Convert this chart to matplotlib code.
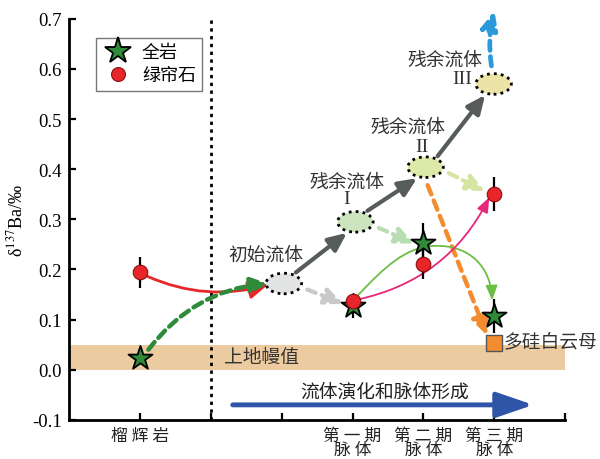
import numpy as np
import matplotlib
matplotlib.use("Agg")
import matplotlib.pyplot as plt
from matplotlib.patches import Ellipse, FancyArrowPatch
from matplotlib.path import Path
from matplotlib.lines import Line2D

plt.rcParams['font.family'] = ['Liberation Serif', 'Noto Sans CJK SC']
plt.rcParams['mathtext.fontset'] = 'stix'

# stage positions on the x axis: eclogite, (divider), initial fluid, vein I, II, III
tick_pos = [0, 1, 2, 3, 4, 5, 6]
tick_labels = ['榴 辉 岩', '', '', '第 一 期\n脉 体', '第 二 期\n脉 体', '第 三 期\n脉 体', '']

# whole rock (stars) and epidote (circles)
rock_x = [0, 3, 4, 5]
rock_y = [0.024, 0.128, 0.252, 0.108]
rock_err = [0.0, 0.024, 0.040, 0.034]

epi_x = [0, 3, 4, 5]
epi_y = [0.194, 0.138, 0.210, 0.350]
epi_err = [0.030, 0.014, 0.028, 0.034]

# phengite
phg_x = [5.0]
phg_y = [0.054]

# fluid reservoirs
fluid_x = [2.03, 3.04, 4.03, 4.99]
fluid_y = [0.172, 0.295, 0.404, 0.570]
fluid_colors = ['#E2E3E3', '#CDE5BE', '#DCE9A8', '#ECE4A6']
fluid_names = ['初始流体', '残余流体', '残余流体', '残余流体']
fluid_roman = ['', 'I', 'II', 'III']

mantle_lo, mantle_hi = 0.0, 0.05

fig = plt.figure(figsize=(6, 4.6), dpi=100)
ax = fig.add_axes([0.115, 0.085, 0.827, 0.872])
ax.set_xlim(-1, 6)
ax.set_ylim(-0.1, 0.7)

# upper mantle band
ax.axhspan(mantle_lo, mantle_hi, color='#EDCBA0', lw=0, zorder=0)
ax.text(1.18, 0.024, '上地幔值', fontsize=13.5, va='center', ha='left', color='#333333')

# divider between eclogite and veins
ax.axvline(1, ymax=1.0, color='black', ls=(0, (1.2, 1.6)), lw=2, zorder=1)


def arrow(p0, p1, color, lw, style, ms, rad=0.0, ls='-', z=3, clip=True):
    a = FancyArrowPatch(p0, p1, arrowstyle=style, mutation_scale=ms,
                        connectionstyle=f'arc3,rad={rad}', color=color,
                        lw=lw, ls=ls, shrinkA=0, shrinkB=0, zorder=z,
                        clip_on=clip)
    ax.add_patch(a)


def curve(verts, color, lw, style, ms, z=3):
    codes = [Path.MOVETO] + [Path.CURVE4] * (len(verts) - 1)
    a = FancyArrowPatch(path=Path(verts, codes), arrowstyle=style,
                        mutation_scale=ms, color=color, lw=lw, zorder=z)
    ax.add_patch(a)


head = '-|>,head_length=1.0,head_width=0.45'

# eclogite -> initial fluid
arrow((epi_x[0] + 0.11, epi_y[0] - 0.008), (fluid_x[0] - 0.22, fluid_y[0] - 0.002),
      '#E8262A', 2.0, head, 12, rad=0.18)
arrow((rock_x[0] + 0.12, rock_y[0] + 0.016), (fluid_x[0] - 0.22, fluid_y[0]),
      '#2F8A3A', 3.2, head, 10, rad=-0.22, ls=(0, (2.2, 1.3)))

# fluid evolution (solid gray)
for i in range(3):
    arrow((fluid_x[i] + 0.17, fluid_y[i] + 0.022), (fluid_x[i + 1] - 0.12, fluid_y[i + 1] - 0.022),
          '#565B5B', 3.0, head, 11)

# fluid -> vein minerals (dashed light)
light = ['#C9C9C9', '#B9DDB2', '#D7E5A2']
ends = [(rock_x[1] - 0.13, rock_y[1] + 0.004),
        (rock_x[2] - 0.13, rock_y[2]),
        (epi_x[3] - 0.13, epi_y[3] + 0.006)]
for i in range(3):
    arrow((fluid_x[i] + 0.33, fluid_y[i] - 0.012), ends[i],
          light[i], 3.0, head, 11, ls=(0, (2.2, 1.5)))

# fluid II -> phengite
arrow((fluid_x[2] + 0.03, fluid_y[2] - 0.036), (phg_x[0] - 0.1, phg_y[0] + 0.014),
      '#F28C2F', 3.2, head, 11, ls=(0, (2.2, 1.5)))

# fluid III escaping upward
arrow((fluid_x[3] - 0.03, fluid_y[3] + 0.036), (fluid_x[3] + 0.01, 0.716),
      '#2C9AD8', 3.4, head, 11, rad=-0.1, ls=(0, (2.0, 1.3)), clip=False)

# whole rock trend
curve([(rock_x[1] + 0.06, epi_y[1] + 0.008), (3.45, 0.205), (3.75, 0.245), (4.15, 0.247),
       (4.65, 0.25), (4.95, 0.205), (rock_x[3] - 0.03, rock_y[3] + 0.03)],
      '#6DBE45', 1.3, '-|>,head_length=0.9,head_width=0.35', 10)

# epidote trend
arrow((epi_x[1] + 0.07, epi_y[1] + 0.002), (epi_x[3] - 0.07, epi_y[3] - 0.006),
      '#E8267A', 1.3, '-|>,head_length=0.9,head_width=0.35', 10, rad=0.24)

# fluid ellipses and labels
for i in range(4):
    e = Ellipse((fluid_x[i], fluid_y[i]), 0.5, 0.041, facecolor=fluid_colors[i],
                edgecolor='black', lw=2.0, ls=(0, (1.0, 1.5)), zorder=5)
    ax.add_patch(e)

ax.text(1.78, 0.228, fluid_names[0], fontsize=13.5, ha='center', va='center', color='#333333')
ax.text(2.92, 0.374, fluid_names[1], fontsize=13.5, ha='center', va='center', color='#333333')
ax.text(2.92, 0.342, fluid_roman[1], fontsize=14, ha='center', va='center', color='#333333')
ax.text(3.78, 0.484, fluid_names[2], fontsize=13.5, ha='center', va='center', color='#333333')
ax.text(3.98, 0.446, fluid_roman[2], fontsize=14, ha='center', va='center', color='#333333')
ax.text(4.31, 0.618, fluid_names[3], fontsize=13.5, ha='center', va='center', color='#333333')
ax.text(4.55, 0.58, fluid_roman[3], fontsize=14, ha='center', va='center', color='#333333')

# data points
ax.errorbar(rock_x, rock_y, yerr=rock_err, fmt='none', ecolor='black', elinewidth=1.6, zorder=6)
ax.errorbar(epi_x, epi_y, yerr=epi_err, fmt='none', ecolor='black', elinewidth=1.6, zorder=6)
ax.scatter(rock_x, rock_y, marker='*', s=330, c='#2F8A3A', edgecolors='black', linewidths=1.3, zorder=7)
ax.scatter(epi_x, epi_y, marker='o', s=110, c='#E8262A', edgecolors='#8A1010', linewidths=0.8, zorder=8)
ax.scatter(phg_x, phg_y, marker='s', s=120, c='#F28C2F', edgecolors='#555555', linewidths=1.0, zorder=7)
ax.text(5.13, 0.056, '多硅白云母', fontsize=13.5, ha='left', va='center', color='#333333')

# process arrow along the bottom
arrow((1.31, -0.07), (5.55, -0.07), '#2F55A8', 3.5, '-|>,head_length=1.6,head_width=0.55', 14, z=4)
ax.text(3.45, -0.043, '流体演化和脉体形成', fontsize=13.5, ha='center', va='center', color='#222222')

# axes styling
for s in ['top', 'right']:
    ax.spines[s].set_visible(False)
for s in ['left', 'bottom']:
    ax.spines[s].set_linewidth(2)
ax.set_xticks(tick_pos)
ax.set_xticklabels(tick_labels, fontsize=12, linespacing=0.82, color='#222222')
yt = np.round(np.arange(-0.1, 0.71, 0.1), 1)
ax.set_yticks(yt)
ax.set_yticklabels([f'{v:.1f}' for v in yt], fontsize=13.5)
ax.tick_params(direction='in', length=5, width=1.6, pad=5)
ax.tick_params(axis='x', pad=6)
ax.set_ylabel('δ$^{137}$Ba/‰', fontsize=13, labelpad=4)

handles = [Line2D([], [], ls='none', marker='*', ms=20, mfc='#2F8A3A', mec='black', mew=1.3),
           Line2D([], [], ls='none', marker='o', ms=10, mfc='#E8262A', mec='#8A1010', mew=0.8)]
leg = ax.legend(handles, ['全岩', '绿帘石'], loc='upper left', bbox_to_anchor=(0.036, 0.975),
                fontsize=13, frameon=True, fancybox=False, edgecolor='#555555',
                handletextpad=0.5, borderpad=0.35, labelspacing=0.35, handlelength=1.7)
leg.get_frame().set_linewidth(1.0)

fig.savefig('out.png', dpi=100)
